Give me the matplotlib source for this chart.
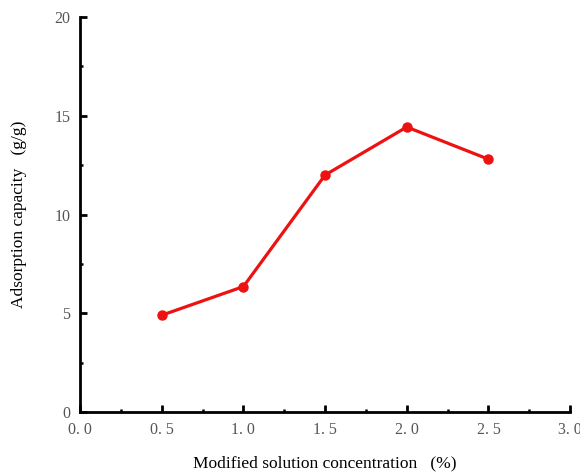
import matplotlib
matplotlib.use('Agg')
from matplotlib import pyplot as plt
from matplotlib.ticker import MultipleLocator, FixedLocator, FixedFormatter

conc = [0.5, 1.0, 1.5, 2.0, 2.5]
capacity = [4.9, 6.35, 12.0, 14.43, 12.8]

xticks = [0.0, 0.5, 1.0, 1.5, 2.0, 2.5, 3.0]
xlabels = ['0. 0', '0. 5', '1. 0', '1. 5', '2. 0', '2. 5', '3. 0']
yticks = [0, 5, 10, 15, 20]

plt.rcParams['font.family'] = ['Liberation Serif', 'DejaVu Serif']

fig = plt.figure(figsize=(5.8, 4.73), dpi=100)
ax = fig.add_axes([0.138, 0.129, 0.845, 0.835])

ax.plot(conc, capacity, color='#ee1111', linewidth=2.3, marker='o', markersize=6.5)

ax.set_xlim(0, 3.0)
ax.set_ylim(0, 20)
ax.xaxis.set_major_locator(FixedLocator(xticks))
ax.xaxis.set_major_formatter(FixedFormatter(xlabels))
ax.xaxis.set_minor_locator(MultipleLocator(0.25))
ax.yaxis.set_major_locator(FixedLocator(yticks))
ax.yaxis.set_minor_locator(MultipleLocator(2.5))

for s in ['top', 'right']:
    ax.spines[s].set_visible(False)
for s in ['left', 'bottom']:
    ax.spines[s].set_linewidth(2.0)

ax.tick_params(which='major', direction='in', length=5, width=2.0,
               labelsize=11.5, labelcolor='#555555', pad=7)
ax.tick_params(which='minor', direction='in', length=2.5, width=1.8)

ax.set_xlabel('Modified solution concentration   (%)', fontsize=12.5, labelpad=13)
ax.set_ylabel('Adsorption capacity   (g/g)', fontsize=12.5, labelpad=20)

fig.savefig('out.png', dpi=100)
